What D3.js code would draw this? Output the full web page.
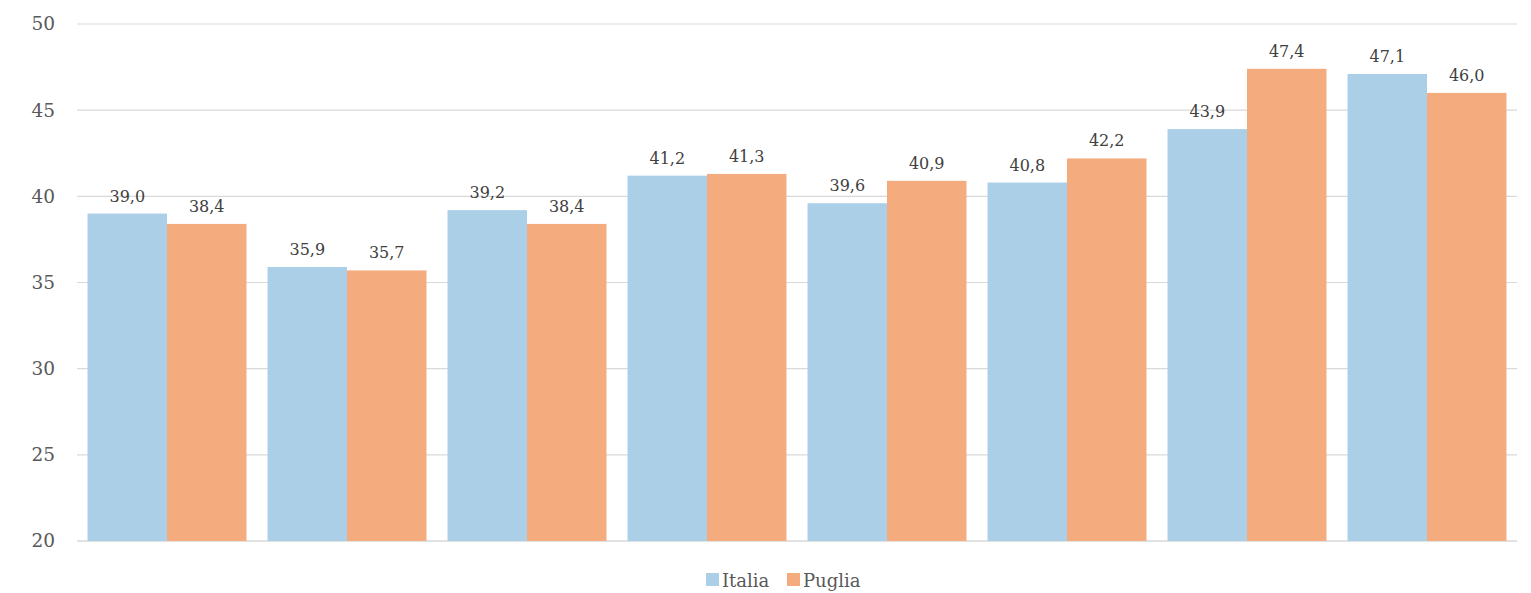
<!DOCTYPE html>
<html>
<head>
<meta charset="utf-8">
<script src="https://cdn.jsdelivr.net/npm/d3@7"></script>
<style>
  body { margin: 0; background: #fff; }
  text { font-family: "DejaVu Serif", "Liberation Serif", serif; }
</style>
</head>
<body>
<script>
const width = 1531;
const height = 593;

// data
const groups = ["1", "2", "3", "4", "5", "6", "7", "8"];
const seriesNames = ["Italia", "Puglia"];
const italia = [39.0, 35.9, 39.2, 41.2, 39.6, 40.8, 43.9, 47.1];
const puglia = [38.4, 35.7, 38.4, 41.3, 40.9, 42.2, 47.4, 46.0];
const yTicks = [20, 25, 30, 35, 40, 45, 50];
const colors = ["#abcfe7", "#f4ab7e"];

let margin = { top: 24, right: 14, bottom: 52, left: 77 };

let svg = d3
  .select("body")
  .append("svg")
  .attr("width", width)
  .attr("height", height);

let data = groups.map((g, i) => ({ group: g, values: [italia[i], puglia[i]] }));

let xScale = d3
  .scaleBand()
  .domain(groups)
  .range([margin.left, width - margin.right])
  .paddingInner(0.117)
  .paddingOuter(0.0585);

let xSub = d3
  .scaleBand()
  .domain(seriesNames)
  .range([0, xScale.bandwidth()]);

let yScale = d3
  .scaleLinear()
  .domain([20, 50])
  .range([height - margin.bottom, margin.top]);

// gridlines
svg
  .append("g")
  .selectAll("line")
  .data(yTicks)
  .join("line")
  .attr("x1", margin.left)
  .attr("x2", width - margin.right)
  .attr("y1", (d) => yScale(d))
  .attr("y2", (d) => yScale(d))
  .attr("stroke", "#d9d9d9")
  .attr("stroke-width", (d) => (d === 20 ? 1.6 : 1.2));

// y axis labels
let leftAxis = d3.axisLeft(yScale).tickValues(yTicks).tickSize(0).tickPadding(22);
svg
  .append("g")
  .attr("transform", `translate(${margin.left}, 0)`)
  .call(leftAxis)
  .call((g) => g.select(".domain").remove())
  .selectAll("text")
  .attr("font-size", 18.5)
  .attr("font-family", '"DejaVu Serif", serif')
  .attr("fill", "#595959");

// bars
let groupG = svg
  .append("g")
  .selectAll("g")
  .data(data)
  .join("g")
  .attr("transform", (d) => `translate(${xScale(d.group)}, 0)`);

groupG
  .selectAll("rect")
  .data((d) => d.values.map((v, i) => ({ key: seriesNames[i], value: v, i: i })))
  .join("rect")
  .attr("x", (d) => xSub(d.key))
  .attr("y", (d) => yScale(d.value))
  .attr("width", xSub.bandwidth())
  .attr("height", (d) => yScale(20) - yScale(d.value))
  .attr("fill", (d) => colors[d.i]);

groupG
  .selectAll("text")
  .data((d) => d.values.map((v, i) => ({ key: seriesNames[i], value: v })))
  .join("text")
  .attr("x", (d) => xSub(d.key) + xSub.bandwidth() / 2)
  .attr("y", (d) => yScale(d.value) - 12)
  .attr("text-anchor", "middle")
  .attr("font-size", 16)
  .attr("fill", "#404040")
  .text((d) => d3.format(".1f")(d.value).replace(".", ","));

// legend
let legend = svg.append("g").attr("transform", "translate(706, 573)");
let legendPos = [0, 81];
seriesNames.forEach((name, i) => {
  let item = legend.append("g").attr("transform", `translate(${legendPos[i]}, 0)`);
  item.append("rect").attr("width", 13).attr("height", 13).attr("fill", colors[i]);
  item
    .append("text")
    .attr("x", 16)
    .attr("y", 13.5)
    .attr("font-size", 18)
    .attr("fill", "#595959")
    .text(name);
});
</script>
</body>
</html>
